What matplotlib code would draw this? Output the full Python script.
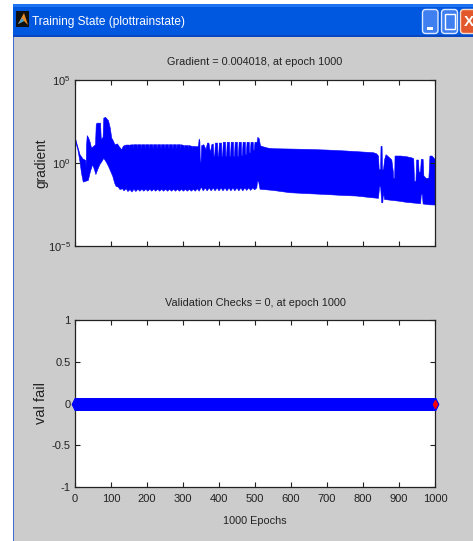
#!/usr/bin/env python3
"""Training state window: gradient and validation checks against epoch"""
import matplotlib
matplotlib.use('Agg')
import matplotlib.pyplot as plt
from matplotlib.patches import Rectangle, FancyBboxPatch, Polygon
import numpy as np

W, H = 473, 541
GRAY = '#CCCCCC'

plt.rcParams['font.family'] = ['Liberation Sans', 'DejaVu Sans']
plt.rcParams['mathtext.default'] = 'regular'

# upper edge of the gradient band, (epoch, log10 of gradient)
top_edge = [
    (0, 3.1), (1, 1.5), (8, 0.95), (14, 0.5), (22, 0.25), (30, 0.15), (31, -0.4), (32, 1.0),
    (34, 1.65), (38, 1.5), (42, 1.25), (46, 0.9), (52, 1.0), (57, 1.1), (59, 2.3), (61, 2.4),
    (71, 2.4), (73, 1.4), (78, 1.55), (80, 2.7), (85, 2.75), (93, 2.55), (98, 2.1), (102, 1.5),
    (106, 1.35), (111, 1.1), (118, 1.15), (124, 0.95), (130, 0.8), (134, 1.0), (140, 1.08),
    (141, 0.85), (142, 1.08), (150, 1.08), (151, 0.85), (152, 1.08), (161, 1.1), (162, 0.85),
    (163, 1.1), (172, 1.1), (173, 0.85), (174, 1.1), (183, 1.1), (184, 0.85), (185, 1.1),
    (194, 1.1), (195, 0.85), (196, 1.1), (205, 1.1), (206, 0.85), (207, 1.1), (216, 1.1),
    (217, 0.85), (218, 1.1), (227, 1.1), (228, 0.85), (229, 1.1), (238, 1.1), (239, 0.85),
    (240, 1.1), (249, 1.1), (250, 0.85), (251, 1.1), (260, 1.1), (261, 0.85), (262, 1.1),
    (271, 1.1), (272, 0.85), (273, 1.1), (282, 1.1), (283, 0.85), (284, 1.1), (293, 1.1),
    (294, 0.85), (295, 1.1), (304, 1.05), (305, 0.85), (306, 1.05), (315, 1.05), (316, 0.85),
    (317, 1.05), (326, 1.0), (327, 0.85), (328, 1.0), (338, 0.98), (343, 1.0), (345, 1.45),
    (347, 1.3), (348, 0.05), (350, 0.05), (352, 1.05), (358, 1.1), (364, 0.8), (368, 1.2),
    (372, 1.2), (376, 0.6), (380, 1.1), (384, 1.15), (386, 0.4), (388, 0.4), (390, 1.2),
    (396, 1.2), (397, 0.4), (399, 0.4), (401, 1.2), (407, 1.2), (408, 0.4), (410, 0.4),
    (412, 1.25), (418, 1.25), (419, 0.4), (421, 0.4), (423, 1.25), (429, 1.25), (430, 0.4),
    (432, 0.4), (434, 1.25), (440, 1.25), (441, 0.4), (443, 0.4), (445, 1.25), (451, 1.25),
    (452, 0.4), (454, 0.4), (456, 1.25), (462, 1.25), (463, 0.45), (465, 0.45), (467, 1.25),
    (473, 1.25), (474, 0.5), (476, 0.5), (478, 1.25), (484, 1.25), (485, 0.6), (487, 0.6),
    (489, 1.25), (495, 1.25), (496, 0.75), (498, 0.8), (500, 1.25), (506, 1.25), (508, 1.55),
    (512, 1.45), (515, 1.05), (519, 1.0), (535, 0.9), (551, 0.86), (600, 0.84), (644, 0.82),
    (700, 0.78), (755, 0.72), (800, 0.66), (829, 0.62), (838, 0.55), (843, 0.42), (845, -0.4),
    (849, -0.42), (850, 1.0), (853, 1.0), (854, -0.4), (857, -0.4), (860, 0.2), (864, 0.5),
    (872, 0.35), (880, 0.18), (884, -0.5), (885, -0.92), (888, -0.92), (889, 0.42), (905, 0.42),
    (921, 0.38), (937, 0.3), (941, 0.25), (943, -1.1), (947, -1.1), (949, 0.18), (954, 0.18),
    (956, -0.6), (960, -0.5), (962, 0.22), (967, 0.22), (969, -0.78), (975, -0.92), (983, -0.92),
    (986, 0.42), (992, 0.42), (1000, 0.22),
]

# lower edge of the gradient band, (epoch, log10 of gradient)
bottom_edge = [
    (0, 1.4), (8, 0.8), (14, 0.05), (18, -0.6), (23, -1.15), (30, -1.1), (37, -1.05), (43, -0.5),
    (49, -0.1), (54, -0.4), (58, -0.7), (63, -0.4), (69, -0.1), (75, 0.1), (80, 0.28), (87, 0.05),
    (93, -0.2), (99, -0.5), (105, -0.8), (110, -1.2), (114, -1.4), (120, -1.45), (125, -1.6),
    (132, -1.55), (136, -1.68), (142, -1.55), (147, -1.72), (153, -1.6), (158, -1.75), (164, -1.58),
    (169, -1.72), (175, -1.58), (180, -1.7), (186, -1.58), (191, -1.7), (197, -1.58), (202, -1.7),
    (208, -1.58), (213, -1.7), (219, -1.58), (224, -1.7), (230, -1.58), (235, -1.7), (241, -1.58),
    (246, -1.7), (252, -1.58), (257, -1.7), (263, -1.58), (268, -1.7), (274, -1.58), (279, -1.7),
    (285, -1.58), (290, -1.7), (296, -1.58), (301, -1.7), (307, -1.58), (312, -1.7), (318, -1.58),
    (323, -1.7), (329, -1.58), (334, -1.7), (340, -1.55), (345, -1.7), (351, -1.45), (356, -1.68),
    (362, -1.5), (367, -1.68), (373, -1.5), (378, -1.68), (384, -1.5), (389, -1.68), (395, -1.5),
    (400, -1.68), (406, -1.5), (411, -1.68), (417, -1.5), (422, -1.68), (428, -1.5), (433, -1.68),
    (439, -1.5), (444, -1.68), (450, -1.5), (455, -1.68), (461, -1.5), (466, -1.68), (472, -1.5),
    (477, -1.65), (483, -1.5), (488, -1.65), (494, -1.5), (499, -1.62), (505, -1.5), (507, -1.1),
    (510, -1.1), (514, -1.58), (550, -1.65), (597, -1.79), (640, -1.84), (690, -1.89), (740, -1.95),
    (782, -1.99), (820, -2.08), (843, -2.13), (846, -1.43), (849, -1.43), (852, -2.39), (855, -2.4),
    (857, -1.75), (860, -2.2), (880, -2.25), (900, -2.3), (921, -2.37), (945, -2.42), (960, -2.45),
    (962, -1.9), (965, -1.9), (967, -2.47), (985, -2.52), (1000, -2.53),
]

grad_ticks = [1e-5, 1e0, 1e5]
grad_labels = ['$10^{-5}$', '$10^{0}$', '$10^{5}$']
val_ticks = [-1, -0.5, 0, 0.5, 1]
val_labels = ['-1', '-0.5', '0', '0.5', '1']
epoch_ticks = [0, 100, 200, 300, 400, 500, 600, 700, 800, 900, 1000]

epochs = np.arange(0, 1001)
val_fail = np.zeros(1001)
last_epoch = 1000
last_val = 0


def px_axes(fig, left, top, right, bottom):
    return fig.add_axes([left / W, 1 - bottom / H, (right - left) / W, (bottom - top) / H])


def style(ax):
    ax.set_facecolor('white')
    ax.tick_params(direction='in', top=True, right=True, length=3.6, width=0.8,
                   colors='#222222', labelsize=8)
    ax.tick_params(axis='x', pad=5)
    ax.tick_params(axis='y', pad=3)
    ax.tick_params(which='minor', length=0)
    for s in ax.spines.values():
        s.set_linewidth(0.9)
        s.set_color('#222222')


fig = plt.figure(figsize=(W / 100, H / 100), dpi=100, facecolor='white')

# window frame, drawn in pixel coordinates
chrome = fig.add_axes([0, 0, 1, 1], zorder=0)
chrome.set_xlim(0, W)
chrome.set_ylim(H, 0)
chrome.axis('off')
chrome.add_patch(Rectangle((14, 37), W - 14, H - 37, color=GRAY, lw=0))
chrome.add_patch(Rectangle((13, 4), 1.2, H - 4, color='#3F6FD0', lw=0))
chrome.add_patch(Rectangle((13, 4), W - 13, 33, color='#0058E0', lw=0))
chrome.add_patch(Rectangle((13, 4), W - 13, 3, color='#1E74F0', lw=0))
chrome.add_patch(Rectangle((13, 35), W - 13, 2, color='#0A46C0', lw=0))
chrome.add_patch(Rectangle((16, 11), 13, 16, color='#101010', lw=0))
chrome.add_patch(Polygon([(18, 24), (24, 13), (28, 25), (24, 21)], color='#E8892A', lw=0))
chrome.add_patch(Polygon([(18, 24), (22, 18), (24, 21)], color='#3FA0D8', lw=0))
chrome.text(32, 22.5, 'Training State (plottrainstate)', color='white', fontsize=8.6,
            va='center', ha='left')
chrome.add_patch(FancyBboxPatch((422.5, 9.5), 15.5, 24, boxstyle='round,pad=0,rounding_size=3',
                                fc='#3F7FF0', ec='#DDE8FF', lw=1))
chrome.add_patch(Rectangle((427, 27), 6, 2.5, color='white', lw=0))
chrome.add_patch(FancyBboxPatch((441.5, 9.5), 16, 24, boxstyle='round,pad=0,rounding_size=3',
                                fc='#3F7FF0', ec='#DDE8FF', lw=1))
chrome.add_patch(Rectangle((445, 14), 10, 15, fc='none', ec='white', lw=1))
chrome.add_patch(FancyBboxPatch((460.5, 9.5), 18, 24, boxstyle='round,pad=0,rounding_size=3',
                                fc='#E2582C', ec='#F5D8C8', lw=1))
chrome.text(469, 21.5, 'X', color='white', fontsize=11, fontweight='bold', ha='center', va='center')

# gradient
ax1 = px_axes(fig, 75, 80, 435, 246)
top_x = [p[0] for p in top_edge]
top_y = [10.0 ** p[1] for p in top_edge]
bot_x = [p[0] for p in bottom_edge]
bot_y = [10.0 ** p[1] for p in bottom_edge]
ax1.fill(top_x + bot_x[::-1], top_y + bot_y[::-1], color='#0000FF', lw=0.4)
ax1.set_yscale('log')
ax1.set_xlim(0, 1000)
ax1.set_ylim(1e-5, 1e5)
ax1.set_xticks(epoch_ticks)
ax1.set_xticklabels([])
ax1.set_yticks(grad_ticks)
ax1.set_yticklabels(grad_labels)
ax1.minorticks_off()
style(ax1)
ax1.set_title('Gradient = 0.004018, at epoch 1000', fontsize=7.8, color='#222222', pad=10.5)
chrome.text(41, 163, 'gradient', rotation=90, fontsize=9.8,
            color='#222222', ha='center', va='center')

# validation checks
ax2 = px_axes(fig, 75, 320, 435, 487)
ax2.plot(epochs, val_fail, color='#0000FF', lw=1, marker='d', ms=5.8, mew=1,
         clip_on=False, zorder=3)
ax2.plot([last_epoch], [last_val], color='#FF0000', marker='d', ms=3.6, mec='#FF0000',
         clip_on=False, zorder=4)
ax2.set_xlim(0, 1000)
ax2.set_ylim(-1, 1)
ax2.set_xticks(epoch_ticks)
ax2.set_yticks(val_ticks)
ax2.set_yticklabels(val_labels)
style(ax2)
ax2.set_title('Validation Checks = 0, at epoch 1000', fontsize=7.8, color='#222222', pad=10)
ax2.set_xlabel('1000 Epochs', fontsize=7.8, color='#222222', labelpad=8.5)
chrome.text(41, 403.5, 'val fail', rotation=90, fontsize=10.5,
            color='#222222', ha='center', va='center')

fig.savefig('out.png', dpi=100, facecolor='white')
